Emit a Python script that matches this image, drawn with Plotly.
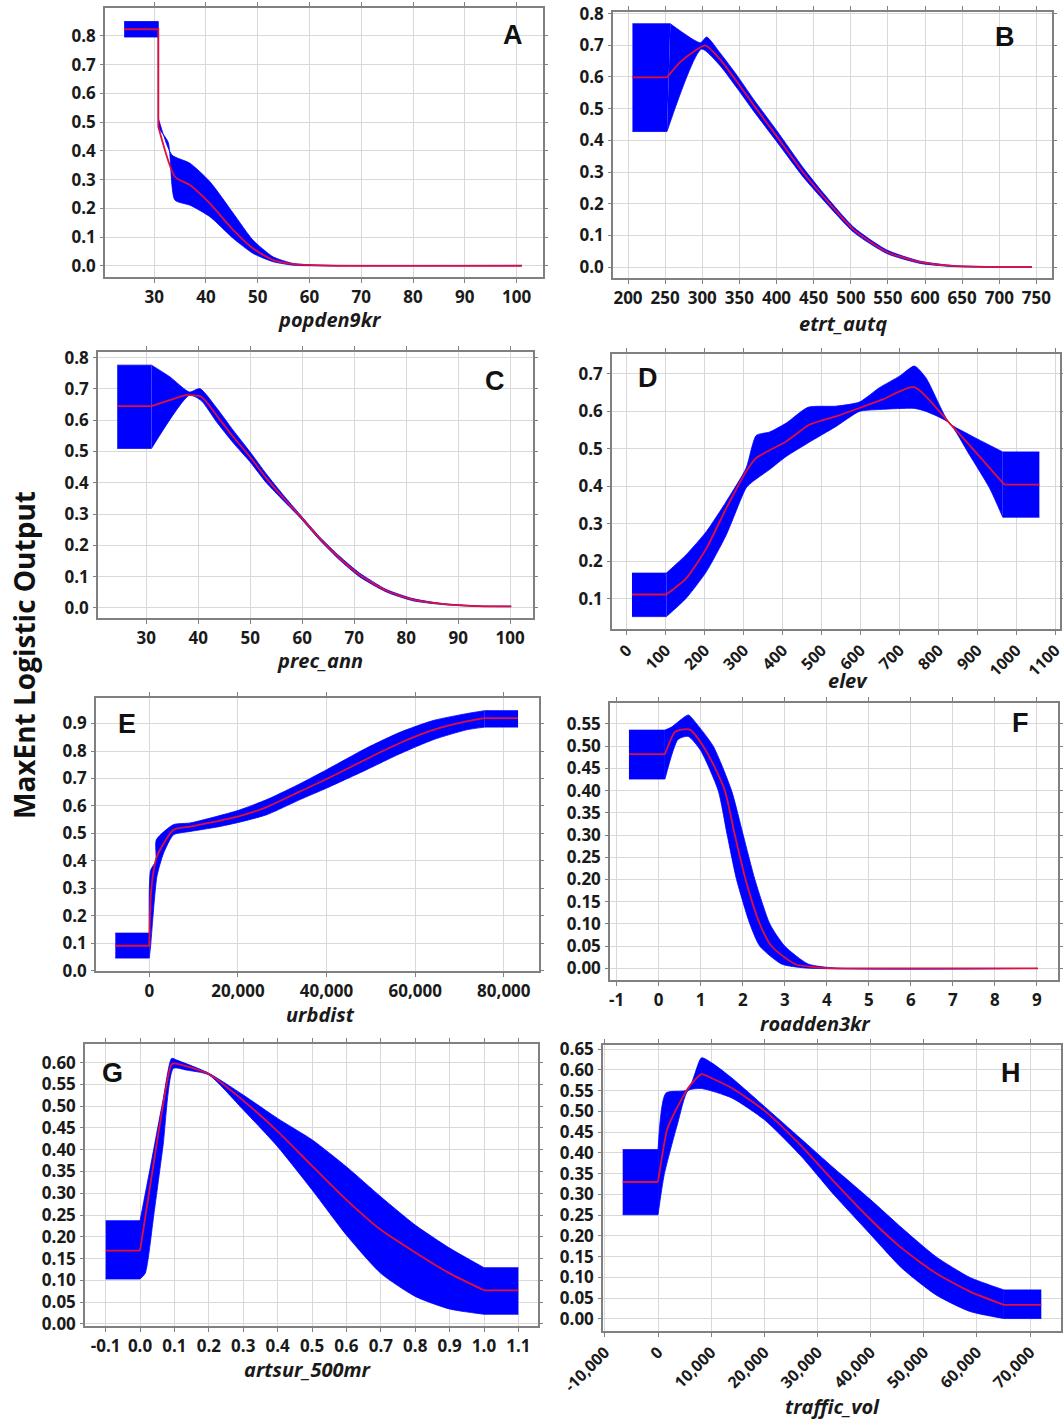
import plotly.graph_objects as go

W, H = 1063, 1420

# ---- A: popden9kr ----
popden_mean_x = [24.2, 30.8, 30.8, 34.0, 36.9, 40.75, 45.3, 49.1, 53.0, 56.9, 60.7, 65, 101]
popden_mean = [0.823, 0.823, 0.484, 0.310, 0.281, 0.217, 0.124, 0.060, 0.020, 0.006, 0.002, 0.0, 0.0]
popden_up_x = [24.2, 30.8, 30.8, 33.4, 36.9, 40.75, 45.3, 49.1, 53.0, 56.9, 60.7, 101]
popden_up = [0.850, 0.850, 0.513, 0.386, 0.357, 0.293, 0.182, 0.089, 0.031, 0.008, 0.003, 0.002]
popden_lo_x = [24.2, 30.8, 30.8, 32.7, 34.0, 36.9, 40.75, 45.3, 49.1, 53.0, 56.9, 60.7, 101]
popden_lo = [0.796, 0.796, 0.479, 0.430, 0.229, 0.211, 0.171, 0.095, 0.043, 0.014, 0.002, 0.0, 0.0]
popden_xticks = [30, 40, 50, 60, 70, 80, 90, 100]
popden_yticks = [0.0, 0.1, 0.2, 0.3, 0.4, 0.5, 0.6, 0.7, 0.8]

# ---- B: etrt_autq ----
etrt_mean_x = [206, 252.5, 270.5, 286, 304, 324.3, 346.8, 369, 400.6, 436.5, 463, 504, 548.7, 593.6, 638.5, 683.4, 744]
etrt_mean = [0.599, 0.599, 0.648, 0.676, 0.700, 0.655, 0.585, 0.512, 0.412, 0.297, 0.223, 0.118, 0.048, 0.016, 0.004, 0.001, 0.001]
etrt_up_x = [206, 257, 297.4, 306, 324.3, 346.8, 369, 400.6, 436.5, 463, 504, 548.7, 593.6, 638.5, 683.4, 744]
etrt_up = [0.768, 0.768, 0.708, 0.726, 0.675, 0.605, 0.530, 0.430, 0.312, 0.234, 0.126, 0.054, 0.019, 0.005, 0.002, 0.002]
etrt_lo_x = [206, 252.5, 299, 324.3, 346.8, 369, 400.6, 436.5, 463, 504, 548.7, 593.6, 638.5, 683.4, 744]
etrt_lo = [0.428, 0.428, 0.688, 0.635, 0.565, 0.493, 0.395, 0.283, 0.212, 0.110, 0.043, 0.012, 0.002, 0.0, 0.0]
etrt_xticks = [200, 250, 300, 350, 400, 450, 500, 550, 600, 650, 700, 750]
etrt_yticks = [0.0, 0.1, 0.2, 0.3, 0.4, 0.5, 0.6, 0.7, 0.8]

# ---- C: prec_ann ----
prec_mean_x = [24.4, 31.0, 34.5, 37.7, 40.6, 43.5, 46.7, 49.9, 53.1, 56.3, 59.5, 63.3, 67.2, 71.0, 76.2, 81.3, 87.0, 93.5, 100.2]
prec_mean = [0.645, 0.645, 0.664, 0.680, 0.675, 0.616, 0.547, 0.484, 0.414, 0.353, 0.295, 0.223, 0.159, 0.106, 0.055, 0.027, 0.013, 0.006, 0.005]
prec_up_x = [24.4, 31.0, 34.5, 38.3, 40.3, 43.5, 46.7, 49.9, 53.1, 56.3, 59.5, 63.3, 67.2, 71.0, 76.2, 81.3, 87.0, 93.5, 100.2]
prec_up = [0.776, 0.776, 0.739, 0.690, 0.701, 0.640, 0.568, 0.500, 0.428, 0.362, 0.300, 0.228, 0.165, 0.112, 0.059, 0.030, 0.014, 0.007, 0.006]
prec_lo_x = [24.4, 31.0, 38.3, 40.6, 43.5, 46.7, 49.9, 53.1, 56.3, 59.5, 63.3, 67.2, 71.0, 76.2, 81.3, 87.0, 93.5, 100.2]
prec_lo = [0.510, 0.510, 0.680, 0.662, 0.595, 0.528, 0.468, 0.400, 0.344, 0.290, 0.218, 0.153, 0.100, 0.051, 0.023, 0.011, 0.005, 0.004]
prec_xticks = [30, 40, 50, 60, 70, 80, 90, 100]
prec_yticks = [0.0, 0.1, 0.2, 0.3, 0.4, 0.5, 0.6, 0.7, 0.8]

# ---- D: elev ----
elev_mean_x = [12.8, 101, 152, 204, 255, 306, 332, 409, 469, 537, 597, 657, 738, 828, 879, 969, 1059]
elev_mean = [0.112, 0.112, 0.155, 0.235, 0.342, 0.440, 0.476, 0.520, 0.565, 0.587, 0.609, 0.632, 0.665, 0.569, 0.511, 0.405, 0.405]
elev_up_x = [12.8, 101, 152, 204, 255, 306, 332, 366, 409, 465, 537, 597, 648, 700, 738, 768, 828, 879, 965, 1059]
elev_up = [0.169, 0.169, 0.218, 0.280, 0.360, 0.449, 0.536, 0.545, 0.569, 0.611, 0.614, 0.625, 0.663, 0.694, 0.721, 0.689, 0.569, 0.538, 0.492, 0.492]
elev_lo_x = [12.8, 101, 152, 204, 255, 306, 323, 366, 409, 465, 537, 597, 648, 738, 768, 828, 879, 931, 965, 1059]
elev_lo = [0.053, 0.053, 0.102, 0.173, 0.271, 0.396, 0.413, 0.445, 0.480, 0.516, 0.560, 0.600, 0.605, 0.608, 0.600, 0.569, 0.485, 0.396, 0.318, 0.318]
elev_xticks = [0, 100, 200, 300, 400, 500, 600, 700, 800, 900, 1000, 1100]
elev_yticks = [0.1, 0.2, 0.3, 0.4, 0.5, 0.6, 0.7]

# ---- E: urbdist ----
urb_mean_x = [-7660, 0, 450, 1727, 5482, 9238, 15246, 20128, 26511, 34021, 40030, 49042, 56552, 64063, 71573, 75703, 83214]
urb_mean = [0.091, 0.091, 0.295, 0.416, 0.513, 0.525, 0.544, 0.562, 0.596, 0.653, 0.698, 0.771, 0.829, 0.877, 0.908, 0.920, 0.920]
urb_up_x = [-7660, 0, 300, 1500, 1600, 5482, 9238, 15246, 20128, 26511, 34021, 40030, 49042, 56552, 64063, 71573, 75703, 83214]
urb_up = [0.137, 0.137, 0.365, 0.400, 0.477, 0.532, 0.538, 0.562, 0.584, 0.623, 0.681, 0.732, 0.811, 0.868, 0.911, 0.936, 0.947, 0.947]
urb_lo_x = [-7660, 0, 300, 1727, 3229, 5482, 9238, 15246, 20128, 26511, 34021, 40030, 49042, 56552, 64063, 71573, 75703, 83214]
urb_lo = [0.046, 0.046, 0.089, 0.343, 0.428, 0.495, 0.507, 0.523, 0.540, 0.568, 0.623, 0.665, 0.732, 0.790, 0.841, 0.877, 0.887, 0.887]
urb_xticks = [0, 20000, 40000, 60000, 80000]
urb_yticks = [0.0, 0.1, 0.2, 0.3, 0.4, 0.5, 0.6, 0.7, 0.8, 0.9]

# ---- F: roadden3kr ----
road_mean_x = [-0.707, 0.149, 0.387, 0.55, 0.743, 1.06, 1.32, 1.575, 1.813, 2.067, 2.407, 2.685, 3.239, 3.8, 4.5, 9.02]
road_mean = [0.482, 0.482, 0.532, 0.537, 0.537, 0.500, 0.455, 0.400, 0.300, 0.200, 0.100, 0.050, 0.010, 0.002, 0.0, 0.0]
road_up_x = [-0.707, 0.149, 0.307, 0.704, 0.862, 1.298, 1.734, 2.011, 2.289, 2.645, 3.002, 3.556, 4.2, 9.02]
road_up = [0.536, 0.536, 0.543, 0.570, 0.555, 0.500, 0.400, 0.300, 0.200, 0.100, 0.050, 0.010, 0.001, 0.0]
road_lo_x = [-0.707, 0.149, 0.46, 0.70, 1.0, 1.417, 1.631, 1.853, 2.170, 2.407, 2.922, 3.5, 9.02]
road_lo = [0.426, 0.426, 0.515, 0.522, 0.490, 0.400, 0.300, 0.200, 0.100, 0.050, 0.010, 0.001, 0.0]
road_xticks = [-1, 0, 1, 2, 3, 4, 5, 6, 7, 8, 9]
road_yticks = [0.00, 0.05, 0.10, 0.15, 0.20, 0.25, 0.30, 0.35, 0.40, 0.45, 0.50, 0.55]

# ---- G: artsur_500mr ----
art_mean_x = [-0.1, 0.0, 0.03, 0.06, 0.092, 0.105, 0.2, 0.3, 0.4, 0.5, 0.6, 0.7, 0.8, 0.9, 1.0, 1.1]
art_mean = [0.168, 0.168, 0.320, 0.470, 0.597, 0.598, 0.574, 0.513, 0.442, 0.363, 0.285, 0.216, 0.164, 0.116, 0.077, 0.077]
art_up_x = [-0.1, 0.0, 0.03, 0.067, 0.092, 0.107, 0.2, 0.3, 0.4, 0.5, 0.6, 0.7, 0.8, 0.9, 1.0, 1.1]
art_up = [0.237, 0.237, 0.360, 0.515, 0.610, 0.606, 0.576, 0.526, 0.472, 0.423, 0.361, 0.292, 0.227, 0.174, 0.129, 0.129]
art_lo_x = [-0.1, 0.0, 0.015, 0.04, 0.067, 0.097, 0.135, 0.2, 0.3, 0.4, 0.5, 0.6, 0.7, 0.8, 0.9, 1.0, 1.1]
art_lo = [0.103, 0.103, 0.116, 0.250, 0.410, 0.587, 0.583, 0.572, 0.492, 0.407, 0.308, 0.204, 0.116, 0.063, 0.034, 0.022, 0.022]
art_xticks = [-0.1, 0.0, 0.1, 0.2, 0.3, 0.4, 0.5, 0.6, 0.7, 0.8, 0.9, 1.0, 1.1]
art_yticks = [0.00, 0.05, 0.10, 0.15, 0.20, 0.25, 0.30, 0.35, 0.40, 0.45, 0.50, 0.55, 0.60]

# ---- H: traffic_vol ----
traf_mean_x = [-6650, 0, 1790, 3708, 5627, 8184, 10100, 13940, 20013, 26726, 33120, 40026, 45908, 52302, 58696, 65090, 72123]
traf_mean = [0.330, 0.330, 0.460, 0.512, 0.556, 0.590, 0.580, 0.556, 0.502, 0.420, 0.331, 0.239, 0.170, 0.110, 0.066, 0.034, 0.034]
traf_up_x = [-6650, 0, 1470, 5627, 8184, 10100, 13940, 20013, 26726, 33120, 40026, 45908, 52302, 58696, 65090, 72123]
traf_up = [0.408, 0.408, 0.544, 0.552, 0.629, 0.617, 0.580, 0.512, 0.436, 0.363, 0.287, 0.219, 0.150, 0.100, 0.070, 0.070]
traf_lo_x = [-6650, 0, 1150, 3708, 5627, 8184, 13940, 20013, 26726, 33120, 40026, 45908, 52302, 58696, 65090, 72123]
traf_lo = [0.251, 0.251, 0.347, 0.472, 0.550, 0.555, 0.532, 0.480, 0.395, 0.299, 0.203, 0.122, 0.058, 0.018, 0.001, 0.001]
traf_xticks = [-10000, 0, 10000, 20000, 30000, 40000, 50000, 60000, 70000]
traf_yticks = [0.00, 0.05, 0.10, 0.15, 0.20, 0.25, 0.30, 0.35, 0.40, 0.45, 0.50, 0.55, 0.60, 0.65]

BLUE = "#0000ff"
RED = "#e0103a"
GRID = "#d9d9d9"
FRAME = "#808080"
INK = "#1a1a1a"
FONT = "Open Sans"
SMOOTH = 0.6


def fmt_comma(v):
    return f"{v:,}"


def fmt_plain(v):
    return f"{v:d}"


def fmt1(v):
    return f"{v:.1f}"


def fmt2(v):
    return f"{v:.2f}"


def run_bounds(xs, ys):
    """Index where the flat/vertical head ends and where the flat tail starts."""
    n = len(xs)
    k = 0
    while k + 1 < n and (ys[k + 1] == ys[k] or xs[k + 1] == xs[k]):
        k += 1
    m = n - 1
    while m - 1 > k and (ys[m - 1] == ys[m] or xs[m - 1] == xs[m]):
        m -= 1
    return k, m


def split(xs, ys, k, m):
    n = len(xs)
    pieces = []
    if k > 0:
        pieces.append(("linear", xs[:k + 1], ys[:k + 1]))
    pieces.append(("spline", xs[k:m + 1], ys[k:m + 1]))
    if m < n - 1:
        pieces.append(("linear", xs[m:], ys[m:]))
    return pieces


def band_pieces(ux, uy, lx, ly):
    """Split both band edges the same way so head, body and tail pair up."""
    ku, mu = run_bounds(ux, uy)
    kl, ml = run_bounds(lx, ly)
    if not (ku > 0 and kl > 0):
        ku = kl = 0
    if not (mu < len(ux) - 1 and ml < len(lx) - 1):
        mu, ml = len(ux) - 1, len(lx) - 1
    return list(zip(split(ux, uy, ku, mu), split(lx, ly, kl, ml)))


# box = (left, right, top, bottom) in page pixels
panels = [
    dict(letter="A", name="popden9kr", mx=popden_mean_x, my=popden_mean, ux=popden_up_x, uy=popden_up,
         lx=popden_lo_x, ly=popden_lo, box=(105, 543, 8, 277), xr=[20.5, 105.1], yr=[-0.039, 0.897],
         xt=popden_xticks, xf=fmt_plain, yt=popden_yticks, yf=fmt1, ang=0,
         tpos=(330, 319), lpos=(513, 35)),
    dict(letter="B", name="etrt_autq", mx=etrt_mean_x, my=etrt_mean, ux=etrt_up_x, uy=etrt_up,
         lx=etrt_lo_x, ly=etrt_lo, box=(613, 1052, 12, 278), xr=[179.8, 771], yr=[-0.034, 0.805],
         xt=etrt_xticks, xf=fmt_plain, yt=etrt_yticks, yf=fmt1, ang=0,
         tpos=(843, 323), lpos=(1005, 37)),
    dict(letter="C", name="prec_ann", mx=prec_mean_x, my=prec_mean, ux=prec_up_x, uy=prec_up,
         lx=prec_lo_x, ly=prec_lo, box=(98, 533, 352, 618), xr=[20.7, 104.4], yr=[-0.032, 0.818],
         xt=prec_xticks, xf=fmt_plain, yt=prec_yticks, yf=fmt1, ang=0,
         tpos=(320, 661), lpos=(495, 381)),
    dict(letter="D", name="elev", mx=elev_mean_x, my=elev_mean, ux=elev_up_x, uy=elev_up,
         lx=elev_lo_x, ly=elev_lo, box=(612, 1060, 354, 629), xr=[-38.5, 1112], yr=[0.020, 0.753],
         xt=elev_xticks, xf=fmt_plain, yt=elev_yticks, yf=fmt1, ang=-45,
         tpos=(848, 680), lpos=(648, 378)),
    dict(letter="E", name="urbdist", mx=urb_mean_x, my=urb_mean, ux=urb_up_x, uy=urb_up,
         lx=urb_lo_x, ly=urb_lo, box=(96, 539, 698, 971), xr=[-12016, 87940], yr=[-0.001, 0.993],
         xt=urb_xticks, xf=fmt_comma, yt=urb_yticks, yf=fmt1, ang=0,
         tpos=(320, 1014), lpos=(127, 724)),
    dict(letter="F", name="roadden3kr", mx=road_mean_x, my=road_mean, ux=road_up_x, uy=road_up,
         lx=road_lo_x, ly=road_lo, box=(610, 1058, 703, 980), xr=[-1.158, 9.50], yr=[-0.026, 0.597],
         xt=road_xticks, xf=fmt_plain, yt=road_yticks, yf=fmt2, ang=0,
         tpos=(815, 1023), lpos=(1020, 723)),
    dict(letter="G", name="artsur_500mr", mx=art_mean_x, my=art_mean, ux=art_up_x, uy=art_up,
         lx=art_lo_x, ly=art_lo, box=(85, 538, 1044, 1326), xr=[-0.16, 1.157], yr=[-0.005, 0.643],
         xt=art_xticks, xf=fmt1, yt=art_yticks, yf=fmt2, ang=0,
         tpos=(308, 1369), lpos=(112, 1073)),
    dict(letter="H", name="traffic_vol", mx=traf_mean_x, my=traf_mean, ux=traf_up_x, uy=traf_up,
         lx=traf_lo_x, ly=traf_lo, box=(603, 1061, 1045, 1331), xr=[-10358, 75830], yr=[-0.029, 0.66],
         xt=traf_xticks, xf=fmt_comma, yt=traf_yticks, yf=fmt2, ang=-45,
         tpos=(832, 1406), lpos=(1011, 1073)),
]

fig = go.Figure()
layout = {}
annotations = []


def edge_line(shape):
    line = dict(color=BLUE, width=0.8, shape=shape)
    if shape == "spline":
        line["smoothing"] = SMOOTH
    return line


for i, p in enumerate(panels, start=1):
    xa = "x" if i == 1 else f"x{i}"
    ya = "y" if i == 1 else f"y{i}"

    # confidence band: each piece is a lower edge followed by an upper edge filled down to it
    for (shape_u, ux, uy), (shape_l, lx, ly) in band_pieces(p["ux"], p["uy"], p["lx"], p["ly"]):
        fig.add_trace(go.Scatter(x=lx, y=ly, mode="lines", line=edge_line(shape_l),
                                 xaxis=xa, yaxis=ya, showlegend=False, hoverinfo="skip"))
        fig.add_trace(go.Scatter(x=ux, y=uy, mode="lines", line=edge_line(shape_u),
                                 fill="tonexty", fillcolor=BLUE,
                                 xaxis=xa, yaxis=ya, showlegend=False, hoverinfo="skip"))

    # mean response
    k, m = run_bounds(p["mx"], p["my"])
    for shape, mx, my in split(p["mx"], p["my"], k, m):
        line = dict(color=RED, width=1.8, shape=shape)
        if shape == "spline":
            line["smoothing"] = SMOOTH
        fig.add_trace(go.Scatter(x=mx, y=my, mode="lines", line=line,
                                 xaxis=xa, yaxis=ya, showlegend=False))

    left, right, top, bottom = p["box"]
    xkey = "xaxis" if i == 1 else f"xaxis{i}"
    ykey = "yaxis" if i == 1 else f"yaxis{i}"
    layout[xkey] = dict(
        domain=[left / W, right / W], range=p["xr"], anchor=ya, automargin=False,
        tickvals=p["xt"], ticktext=[p["xf"](v) for v in p["xt"]],
        tickangle=p["ang"],
        tickfont=dict(family=FONT, size=16 if p["ang"] else 17, color=INK, weight="bold"),
        ticklabeloverflow="allow",
        showgrid=True, gridcolor=GRID, gridwidth=1, zeroline=False,
        showline=True, linecolor=FRAME, linewidth=1.5, mirror="ticks",
        ticks="outside", ticklen=4, tickcolor=FRAME,
    )
    layout[ykey] = dict(
        domain=[1 - bottom / H, 1 - top / H], range=p["yr"], anchor=xa, automargin=False,
        tickvals=p["yt"], ticktext=[p["yf"](v) for v in p["yt"]],
        tickfont=dict(family=FONT, size=17, color=INK, weight="bold"),
        ticklabeloverflow="allow",
        showgrid=True, gridcolor=GRID, gridwidth=1, zeroline=False,
        showline=True, linecolor=FRAME, linewidth=1.5, mirror="ticks",
        ticks="outside", ticklen=3, tickcolor=FRAME, ticklabelstandoff=1,
    )
    tx, ty = p["tpos"]
    annotations.append(dict(
        x=tx / W, y=1 - ty / H, xref="paper", yref="paper", text=f"<b><i>{p['name']}</i></b>",
        showarrow=False, xanchor="center", yanchor="middle",
        font=dict(family=FONT, size=20, color=INK)))
    lx_, ly_ = p["lpos"]
    annotations.append(dict(
        x=lx_ / W, y=1 - ly_ / H, xref="paper", yref="paper", text=f"<b>{p['letter']}</b>",
        showarrow=False, xanchor="center", yanchor="middle",
        font=dict(family="Liberation Sans", size=27, color="#111111")))

annotations.append(dict(
    x=24 / W, y=1 - 655 / H, xref="paper", yref="paper",
    text="<b>MaxEnt Logistic Output</b>", textangle=-90, showarrow=False,
    xanchor="center", yanchor="middle",
    font=dict(family=FONT, size=28, color="#111111")))

fig.update_layout(
    width=W, height=H,
    margin=dict(l=0, r=0, t=0, b=0),
    paper_bgcolor="white", plot_bgcolor="white",
    annotations=annotations,
    **layout,
)

fig.write_html("out.html")
